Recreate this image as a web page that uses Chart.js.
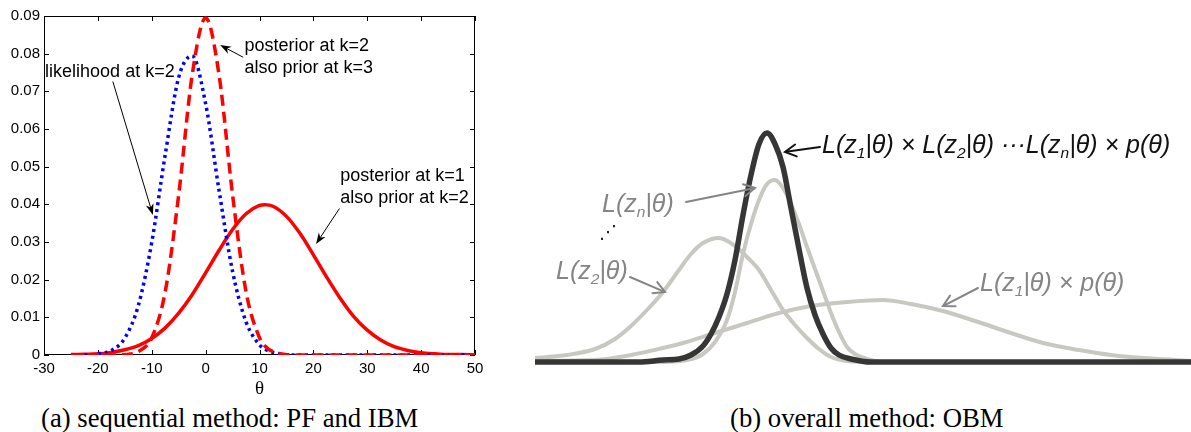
<!DOCTYPE html>
<html>
<head>
<meta charset="utf-8">
<script src="https://cdn.jsdelivr.net/npm/chart.js@4.4.1/dist/chart.umd.min.js"></script>
<style>
  body { margin: 0; background: #fff; width: 1191px; height: 432px; position: relative; overflow: hidden; }
  #seqBox { position: absolute; left: 0; top: 0; width: 520px; height: 400px; }
  #obmBox { position: absolute; left: 520px; top: 0; width: 671px; height: 400px; }
  .caption {
    position: absolute; top: 405px; white-space: nowrap; color: #000;
    font-family: "Liberation Serif", "Times New Roman", serif; font-size: 26.7px; line-height: 26px;
  }
</style>
</head>
<body>
<div id="seqBox"><canvas id="seqChart" width="520" height="400"></canvas></div>
<div id="obmBox"><canvas id="obmChart" width="671" height="400"></canvas></div>
<div class="caption" style="left:41px">(a) sequential method: PF and IBM</div>
<div class="caption" style="left:730px">(b) overall method: OBM</div>

<script>
/* ================= DATA (a) sequential ================= */
const thetaX = [-25, -22.5, -20, -17.5, -15, -12.5, -10, -7.5, -5, -2.5, 0, 2.5, 5, 7.5, 10, 11,
                12.5, 15, 17.5, 20, 22.5, 25, 27.5, 30, 32.5, 35, 37.5, 40, 42.5, 45, 47.5, 50];

// likelihood at k=2 (blue dotted)
const likelihoodK2 = [0, 0, 0.0003, 0.0012, 0.0045, 0.0131, 0.0299, 0.0532, 0.0737, 0.0794, 0.0667, 0.0436,
                      0.0222, 0.0088, 0.0027, 0.0016, 0.0007, 0.0001, 0, 0, 0, 0, 0, 0, 0, 0, 0, 0, 0, 0, 0, 0];

// posterior at k=2 (red dashed)
const posteriorK2 = [0, 0, 0, 0, 0.0001, 0.0009, 0.0046, 0.0168, 0.0425, 0.0743, 0.0895, 0.0743,
                     0.0425, 0.0168, 0.0046, 0.0024, 0.0009, 0.0001, 0, 0, 0, 0, 0, 0, 0, 0, 0, 0, 0, 0, 0, 0];

// posterior at k=1 (red solid)
const posteriorK1 = [0.0001, 0.0002, 0.0003, 0.0007, 0.0014, 0.0025, 0.0044, 0.0072, 0.0111, 0.0160, 0.0218, 0.0278,
                     0.0333, 0.0375, 0.0397, 0.0399, 0.0395, 0.0368, 0.0323, 0.0266, 0.0206, 0.0150, 0.0102, 0.0066,
                     0.0040, 0.0022, 0.0012, 0.0006, 0.0003, 0.0001, 0.0001, 0];

const thetaTicks = { min: -30, max: 50, step: 10 };
const densityTicks = { min: 0, max: 0.09, step: 0.01 };

/* ================= DATA (b) overall ================= */
// product of all likelihoods and prior (dark)
const obmX = [0, 26, 32, 36, 39, 42, 44, 46, 48, 50, 52, 54, 56, 58, 60, 62, 64, 66, 68, 70, 72, 74, 76, 79, 84, 164];
const obmY = [0, 0, 1, 1.5, 3.5, 8, 14, 22.5, 34, 51, 73.5, 93.5, 109, 114.5, 109, 97.5, 77, 56.5, 37, 23.5, 14, 7, 3.5, 1.5, 0, 0];

// L(zn|θ)
const znX = [0, 30, 38, 42, 45, 48, 50, 52, 54, 56, 58, 60, 62, 64, 66, 68, 70, 72, 74, 76, 78, 80, 83, 87, 164];
const znY = [0, 0, 1, 4, 10, 21, 35, 54, 69, 81, 89, 91, 87, 79, 69, 57.5, 46.5, 35.5, 24.5, 15, 7.5, 4, 1.5, 0, 0];

// L(z2|θ)
const z2X = [0, 8, 15, 20, 24, 28, 32, 36, 39, 42, 46, 50, 53, 56, 59, 62, 65, 68, 71, 74, 78, 84, 164];
const z2Y = [2, 3.5, 6.5, 11.5, 18, 26, 35, 46, 54, 59.5, 62, 58, 52.5, 46, 36, 26, 18.5, 12, 6.5, 2.5, 0.5, 0, 0];

// L(z1|θ) x p(θ)
const z1X = [0, 15, 24, 32, 37, 45, 53, 61, 69, 78, 87, 94, 102, 110, 119, 127, 136, 144, 152, 160, 164];
const z1Y = [0.5, 1, 3.5, 7, 9.5, 14.5, 19.5, 24.5, 28, 30, 31, 29, 25.5, 20.5, 14.5, 9.5, 6, 3.5, 2, 1, 0.5];

/* ================= HELPERS ================= */
const toPoints = (xs, ys) => xs.map((x, i) => ({ x, y: ys[i] }));

function drawArrow(ctx, x1, y1, x2, y2, opt) {
    const ang = Math.atan2(y2 - y1, x2 - x1);
    const c = Math.cos(ang), s = Math.sin(ang);
    ctx.strokeStyle = opt.color;
    ctx.fillStyle = opt.color;
    ctx.lineWidth = opt.width;
    ctx.lineCap = "round";
    ctx.beginPath();
    ctx.moveTo(x1, y1);
    ctx.lineTo(x2 - c * (opt.filled ? opt.len * 0.7 : 1), y2 - s * (opt.filled ? opt.len * 0.7 : 1));
    ctx.stroke();

    const bx = x2 - c * opt.len, by = y2 - s * opt.len;
    const nx = -s * opt.half, ny = c * opt.half;
    ctx.beginPath();
    if (opt.filled) {
        ctx.moveTo(x2, y2);
        ctx.lineTo(bx + nx, by + ny);
        ctx.lineTo(x2 - c * opt.len * 0.7, y2 - s * opt.len * 0.7);
        ctx.lineTo(bx - nx, by - ny);
        ctx.closePath();
        ctx.fill();
    } else {
        ctx.moveTo(bx + nx, by + ny);
        ctx.lineTo(x2, y2);
        ctx.lineTo(bx - nx, by - ny);
        ctx.stroke();
    }
}

// text pieces: [string, isSubscript]
function drawRich(ctx, parts, x, y, size, color) {
    ctx.fillStyle = color;
    ctx.textAlign = "left";
    ctx.textBaseline = "middle";
    let cx = x;
    parts.forEach(([txt, sub]) => {
        const fs = sub ? size * 0.62 : size;
        ctx.font = `italic ${fs}px "Liberation Sans", Arial, sans-serif`;
        ctx.fillText(txt, cx, sub ? y + size * 0.3 : y);
        cx += ctx.measureText(txt).width;
    });
}

/* ================= (a) FRAME + ANNOTATIONS ================= */
const seqNotes = [
    { lines: ["likelihood at k=2"], x: -29.8, y: 0.0751 },
    { lines: ["posterior at k=2", "also prior at k=3"], x: 7.2, y: 0.0820 },
    { lines: ["posterior at k=1", "also prior at k=2"], x: 25.0, y: 0.0475 }
];
const seqPointers = [
    { from: [-17.2, 0.0725], to: [-9.8, 0.0372] },
    { from: [6.9, 0.0791], to: [2.7, 0.0823] },
    { from: [24.8, 0.0388], to: [20.5, 0.0295] }
];

const matlabFrame = {
    id: "matlabFrame",
    beforeDatasetsDraw(chart) {
        const { ctx, chartArea: a, scales: { x, y } } = chart;
        ctx.save();
        ctx.strokeStyle = "#000";
        ctx.lineWidth = 1;
        ctx.strokeRect(a.left + 0.5, a.top + 0.5, a.width - 1, a.height - 1);
        ctx.beginPath();
        x.ticks.forEach(t => {
            const px = Math.round(x.getPixelForValue(t.value)) + 0.5;
            ctx.moveTo(px, a.bottom); ctx.lineTo(px, a.bottom - 5);
            ctx.moveTo(px, a.top); ctx.lineTo(px, a.top + 5);
        });
        y.ticks.forEach(t => {
            const py = Math.round(y.getPixelForValue(t.value)) + 0.5;
            ctx.moveTo(a.left, py); ctx.lineTo(a.left + 5, py);
            ctx.moveTo(a.right, py); ctx.lineTo(a.right - 5, py);
        });
        ctx.stroke();
        ctx.restore();
    },
    afterDatasetsDraw(chart) {
        const { ctx, scales: { x, y } } = chart;
        ctx.save();
        ctx.font = '18px "Liberation Sans", Arial, sans-serif';
        ctx.fillStyle = "#000";
        ctx.textAlign = "left";
        ctx.textBaseline = "middle";
        seqNotes.forEach(n => {
            n.lines.forEach((line, i) => {
                ctx.fillText(line, x.getPixelForValue(n.x), y.getPixelForValue(n.y) + i * 22);
            });
        });
        seqPointers.forEach(p => {
            drawArrow(ctx,
                x.getPixelForValue(p.from[0]), y.getPixelForValue(p.from[1]),
                x.getPixelForValue(p.to[0]), y.getPixelForValue(p.to[1]),
                { color: "#000", width: 1, len: 11, half: 4, filled: true });
        });
        ctx.restore();
    }
};

/* ================= (a) CHART ================= */
new Chart(document.getElementById("seqChart"), {
    type: "line",
    data: {
        datasets: [
            {
                label: "posterior at k=2",
                data: toPoints(thetaX, posteriorK2),
                borderColor: "#ff0000",
                borderWidth: 3.5,
                borderDash: [11, 6]
            },
            {
                label: "likelihood at k=2",
                data: toPoints(thetaX, likelihoodK2),
                borderColor: "#0000ff",
                borderWidth: 3.5,
                borderDash: [3, 3.8]
            },
            {
                label: "posterior at k=1",
                data: toPoints(thetaX, posteriorK1),
                borderColor: "#ff0000",
                borderWidth: 3.5
            }
        ]
    },
    options: {
        responsive: false,
        animation: false,
        devicePixelRatio: 1,
        layout: { padding: { top: 16, right: 45, left: 0, bottom: 0 } },
        elements: {
            point: { radius: 0 },
            line: { cubicInterpolationMode: "monotone", fill: false, borderCapStyle: "butt" }
        },
        plugins: { legend: { display: false }, tooltip: { enabled: false } },
        scales: {
            x: {
                type: "linear",
                min: thetaTicks.min,
                max: thetaTicks.max,
                grid: { display: false, drawTicks: false },
                border: { display: false },
                ticks: {
                    stepSize: thetaTicks.step,
                    padding: 5,
                    color: "#000",
                    font: { family: '"Liberation Sans", Arial, sans-serif', size: 15 }
                },
                title: {
                    display: true,
                    text: "θ",
                    color: "#000",
                    padding: 0,
                    font: { family: '"Liberation Serif", "Times New Roman", serif', size: 19 }
                },
                afterFit: s => { s.height = 45; }
            },
            y: {
                min: densityTicks.min,
                max: densityTicks.max,
                grid: { display: false, drawTicks: false },
                border: { display: false },
                ticks: {
                    stepSize: densityTicks.step,
                    padding: 4,
                    color: "#000",
                    font: { family: '"Liberation Sans", Arial, sans-serif', size: 15 },
                    callback: v => (Math.abs(v) < 1e-9 ? "0" : v.toFixed(2))
                },
                afterFit: s => { s.width = 44; }
            }
        }
    },
    plugins: [matlabFrame]
});

/* ================= (b) ANNOTATIONS ================= */
const GRAY_TEXT = "#858585";
const obmNotes = [
    { parts: [["L(z"], ["1", true], ["|θ) × L(z"], ["2", true], ["|θ) ···L(z"], ["n", true], ["|θ) × p(θ)"]],
      x: 71.75, y: 108, color: "#111" },
    { parts: [["L(z"], ["n", true], ["|θ)"]], x: 16.75, y: 78.5, color: GRAY_TEXT },
    { parts: [["L(z"], ["2", true], ["|θ)"]], x: 5.25, y: 45, color: GRAY_TEXT },
    { parts: [["L(z"], ["1", true], ["|θ) × p(θ)"]], x: 111.25, y: 39, color: GRAY_TEXT }
];
const obmPointers = [
    { from: [71.25, 107.5], to: [62.5, 105], color: "#111" },
    { from: [37.75, 80], to: [55, 87], color: GRAY_TEXT },
    { from: [23.75, 42.5], to: [32.5, 35], color: GRAY_TEXT },
    { from: [110.75, 37], to: [102, 28], color: GRAY_TEXT }
];

const obmLabels = {
    id: "obmLabels",
    afterDatasetsDraw(chart) {
        const { ctx, scales: { x, y } } = chart;
        ctx.save();
        obmNotes.forEach(n => drawRich(ctx, n.parts, x.getPixelForValue(n.x), y.getPixelForValue(n.y), 25, n.color));
        obmPointers.forEach(p => {
            drawArrow(ctx,
                x.getPixelForValue(p.from[0]), y.getPixelForValue(p.from[1]),
                x.getPixelForValue(p.to[0]), y.getPixelForValue(p.to[1]),
                { color: p.color, width: 2, len: 11, half: 6, filled: false });
        });
        // ellipsis between L(z2|θ) and L(zn|θ)
        ctx.font = '18px "DejaVu Sans", sans-serif';
        ctx.fillStyle = "#111";
        ctx.textAlign = "center";
        ctx.textBaseline = "middle";
        ctx.fillText("⋰", x.getPixelForValue(18.25), y.getPixelForValue(64.5));
        ctx.restore();
    }
};

/* ================= (b) CHART ================= */
new Chart(document.getElementById("obmChart"), {
    type: "line",
    data: {
        datasets: [
            {
                label: "product",
                data: toPoints(obmX, obmY),
                borderColor: "#363636",
                borderWidth: 5.5
            },
            {
                label: "L(zn|θ)",
                data: toPoints(znX, znY),
                borderColor: "#c9c7c1",
                borderWidth: 4
            },
            {
                label: "L(z2|θ)",
                data: toPoints(z2X, z2Y),
                borderColor: "#c9c7c1",
                borderWidth: 4
            },
            {
                label: "L(z1|θ)p(θ)",
                data: toPoints(z1X, z1Y),
                borderColor: "#c9c7c1",
                borderWidth: 4
            }
        ]
    },
    options: {
        responsive: false,
        animation: false,
        devicePixelRatio: 1,
        layout: { padding: { top: 112, right: 0, left: 15, bottom: 38 } },
        elements: {
            point: { radius: 0 },
            line: { cubicInterpolationMode: "monotone", fill: false }
        },
        datasets: { line: { clip: false } },
        plugins: { legend: { display: false }, tooltip: { enabled: false } },
        scales: {
            x: { type: "linear", min: 0, max: 164, display: false },
            y: { min: 0, max: 125, display: false }
        }
    },
    plugins: [obmLabels]
});
</script>
</body>
</html>
